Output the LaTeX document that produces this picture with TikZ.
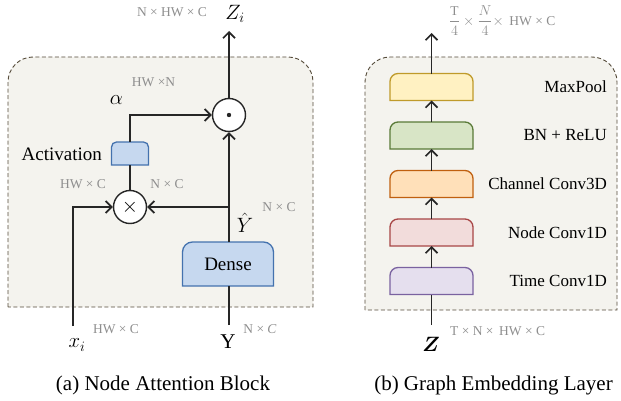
\documentclass[tikz,border=0pt]{standalone}
\usepackage{amsmath}
\usepackage{bm}
\usepackage{fontspec}
\setmainfont{Liberation Serif}
\usetikzlibrary{arrows.meta,backgrounds,positioning}

\definecolor{panelbg}{HTML}{F4F3EE}
\definecolor{panelln}{HTML}{554B3A}
\definecolor{dimgray}{HTML}{8E8E8E}
\definecolor{inkline}{HTML}{262626}
\definecolor{blueF}{HTML}{C6D8EF}
\definecolor{blueD}{HTML}{4472AE}
\definecolor{yellowF}{HTML}{FFF1C2}
\definecolor{yellowD}{HTML}{BF9A2A}
\definecolor{greenF}{HTML}{D8E5C6}
\definecolor{greenD}{HTML}{5A7A38}
\definecolor{orangeF}{HTML}{FFE0B9}
\definecolor{orangeD}{HTML}{C0600F}
\definecolor{redF}{HTML}{F2DCDB}
\definecolor{redD}{HTML}{A84646}
\definecolor{purpleF}{HTML}{E5DFEE}
\definecolor{purpleD}{HTML}{7A62A0}

% tab shape under a node: name, fill, border, corner radius
\newcommand{\tabshape}[4]{%
  \filldraw[fill=#2,draw=#3,line width=1.3pt]
    (#1.south west) -- ([yshift=-#4]#1.north west)
    arc[start angle=180,end angle=90,radius=#4]
    -- ([xshift=-#4]#1.north east)
    arc[start angle=90,end angle=0,radius=#4]
    -- (#1.south east) -- cycle;}

% dashed panel: x1, y1, x2, y2
\newcommand{\panelbox}[4]{%
  \filldraw[fill=panelbg,draw=panelln,line width=0.9pt,dash pattern=on 4pt off 2.5pt]
    (#1,#2) -- (#1,#4-25)
    arc[start angle=180,end angle=90,radius=25]
    -- (#3-25,#4)
    arc[start angle=90,end angle=0,radius=25]
    -- (#3,#2) -- cycle;}

\begin{document}
\begin{tikzpicture}
  [x=1pt, y=1pt, node distance=21.5pt,
   line/.style={draw=inkline, line width=1.7pt},
   arr/.style={line, -{Straight Barb[length=6pt,width=12pt]}},
   dim/.style={text=dimgray, font=\fontsize{13.5}{14}\selectfont, inner sep=0pt},
   lbl/.style={font=\fontsize{17}{18}\selectfont, inner sep=0pt},
   var/.style={font=\fontsize{22}{22}\selectfont, inner sep=0pt},
   caption/.style={font=\fontsize{21}{22}\selectfont, inner sep=0pt},
   op/.style={circle, draw=inkline, line width=1.4pt, fill=white,
              minimum size=33pt, inner sep=0pt},
   tab/.style={inner sep=0pt, outer sep=0pt, minimum width=83pt, minimum height=27pt}]
  \useasboundingbox (0,0) rectangle (621,400);

  % panels
  \begin{scope}[on background layer]
    \panelbox{8}{93}{313}{343}
    \panelbox{365}{90}{617}{343}
  \end{scope}

  % (a) node attention block
  \node[op, path picture={\fill[inkline] (path picture bounding box.center) circle (2.2pt);}]
    (dot) at (229,285) {};
  \node[op, font=\fontsize{22}{22}\selectfont] (mul) at (130,193) {$\times$};
  \node[tab, minimum width=37pt, minimum height=23pt] (act) at (130,246.5) {};
  \node[tab, minimum width=91pt, minimum height=44pt, font=\fontsize{19}{20}\selectfont]
    (dense) at (228,136) {Dense};
  \begin{scope}[on background layer]
    \tabshape{act}{blueF}{blueD}{5pt}
    \tabshape{dense}{blueF}{blueD}{10pt}
  \end{scope}

  \node[var] (zi) at (235,386) {$Z_i$};
  \node[var] (alpha) at (116.5,300) {$\alpha$};
  \node[var] (yhat) at (245,177) {$\hat{Y}$};
  \node[var] (xi) at (77,55) {$x_i$};
  \node[var, font=\fontsize{21}{22}\selectfont] (y) at (228,58) {Y};
  \node[lbl, font=\fontsize{19}{20}\selectfont, anchor=east] (actlbl) at (102,245.5) {Activation};

  \node[dim] at (172,388) {N × HW × C};
  \node[dim] at (153.5,318) {HW ×N};
  \node[dim] at (83,215.5) {HW × C};
  \node[dim] at (167,215.5) {N × C};
  \node[dim] at (279,193) {N × C};
  \node[dim] at (116,71) {HW × C};
  \node[dim] at (260,71) {N × \textit{C}};

  \coordinate (zout) at (229,369);
  \coordinate (xin) at (73,74);
  \coordinate (yin) at (229,75);
  \coordinate (split) at (229,193);

  \draw[arr] (dot) -- (zout);
  \draw[arr] (act.north) |- (dot.west);
  \draw[line] (act.south) -- (mul.north);
  \draw[arr] (xin) |- (mul.west);
  \draw[arr] (split) -- (mul.east);
  \draw[arr] (dense.north -| dot) -- (dot.south);
  \draw[line] (yin) -- (dense.south -| dot);

  \node[caption] at (163,15) {(a) Node Attention Block};

  % (b) graph embedding layer
  \node[tab] (tconv) at (431.5,119) {};
  \node[tab, above=of tconv] (nconv) {};
  \node[tab, above=of nconv] (conv3d) {};
  \node[tab, above=of conv3d] (bnrelu) {};
  \node[tab, above=of bnrelu] (pool) {};
  \begin{scope}[on background layer]
    \tabshape{tconv}{purpleF}{purpleD}{8pt}
    \tabshape{nconv}{redF}{redD}{8pt}
    \tabshape{conv3d}{orangeF}{orangeD}{8pt}
    \tabshape{bnrelu}{greenF}{greenD}{8pt}
    \tabshape{pool}{yellowF}{yellowD}{8pt}
  \end{scope}

  \coordinate (lblx) at (607,0);
  \node[lbl, anchor=east] at (pool -| lblx) {MaxPool};
  \node[lbl, anchor=east] at (bnrelu -| lblx) {BN + ReLU};
  \node[lbl, anchor=east] at (conv3d -| lblx) {Channel Conv3D};
  \node[lbl, anchor=east] at (nconv -| lblx) {Node Conv1D};
  \node[lbl, anchor=east] at (tconv -| lblx) {Time Conv1D};

  \node[var] (z) at (431,55.5) {$\bm{Z}$};
  \node[dim, anchor=west] at (450,68.5) {T × N ×\, HW × C};
  \node[dim, anchor=west] at (449,379.5) {$\dfrac{\mathrm{T}}{4}\times\dfrac{N}{4}\times$\, HW × C};

  \coordinate (zin) at (431.5,75);
  \coordinate (gout) at (431.5,367);

  \draw[line] (zin) -- (tconv.south);
  \draw[arr] (tconv.north) -- (nconv.south);
  \draw[arr] (nconv.north) -- (conv3d.south);
  \draw[arr] (conv3d.north) -- (bnrelu.south);
  \draw[arr] (bnrelu.north) -- (pool.south);
  \draw[arr] (pool.north) -- (gout);

  \node[caption] at (493.5,15) {(b) Graph Embedding Layer};
\end{tikzpicture}
\end{document}
